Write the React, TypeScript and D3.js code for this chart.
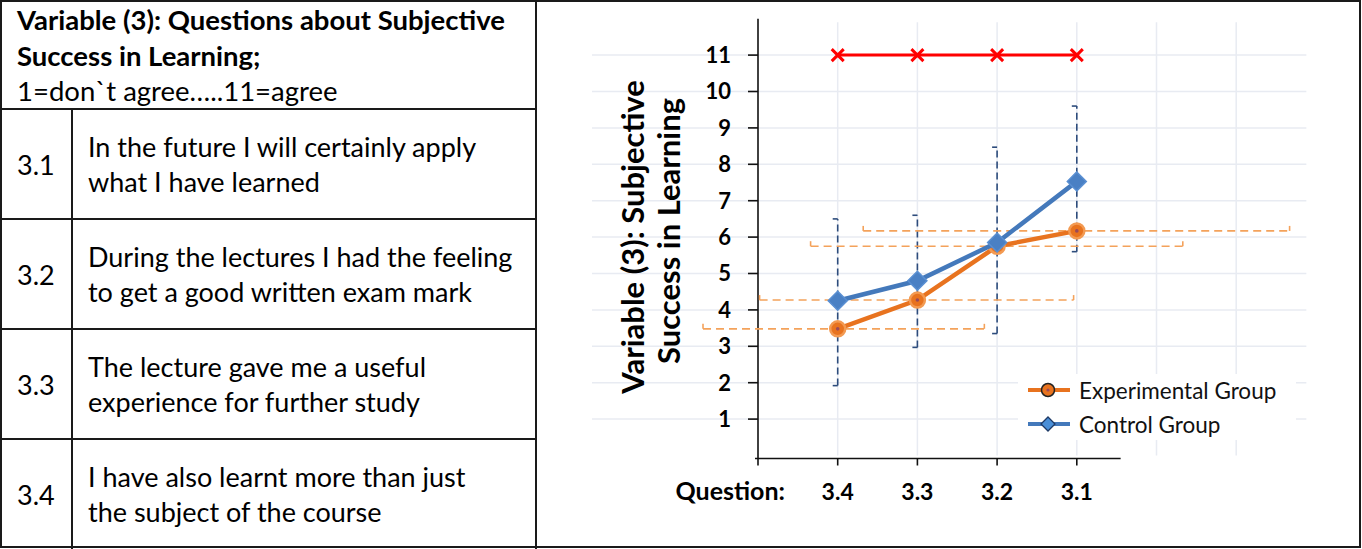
import * as d3 from "d3";
import { useEffect, useRef } from "react";

// ---- data ----
const questions = ["3.4", "3.3", "3.2", "3.1"];
const experimental = [3.48, 4.27, 5.75, 6.17];
const control = [4.25, 4.8, 5.85, 7.53];
const maxScale = [11, 11, 11, 11];
// vertical error bars of the control group (low / high values)
const controlLow = [1.92, 2.97, 3.35, 5.6];
const controlHigh = [6.5, 6.6, 8.47, 9.6];
// horizontal error bars of the experimental group (in category units)
const expErrMinus = [1.69, 1.98, 2.34, 2.68];
const expErrPlus = [1.84, 1.96, 2.33, 2.67];
const yTicks = [1, 2, 3, 4, 5, 6, 7, 8, 9, 10, 11];

const headerLines = [
  "Variable (3): Questions about Subjective",
  "Success in Learning;",
  "1=don`t agree…..11=agree",
];
const rowIds = ["3.1", "3.2", "3.3", "3.4"];
const rowLines = [
  ["In the future I will certainly apply", "what I have learned"],
  ["During the lectures I had the feeling", "to get a good written exam mark"],
  ["The lecture gave me a useful", "experience for further study"],
  ["I have also learnt more than just", "the subject of the course"],
];

const W = 1362;
const H = 549;
const FONT = "Lato, 'Open Sans', sans-serif";

const ORANGE = "#e8731f";
const BLUE = "#4479bb";

function App() {
  const ref = useRef<SVGSVGElement>(null);

  useEffect(() => {
    const svg = d3.select(ref.current);
    svg.selectAll("*").remove();
    svg.append("rect").attr("width", W).attr("height", H).attr("fill", "#fff");

    // ---------- table ----------
    const tbl = svg.append("g").attr("font-family", FONT).attr("fill", "#000");
    const rowTop = 109;
    const rowH = 110;

    tbl
      .selectAll("text.hdr")
      .data(headerLines)
      .join("text")
      .attr("class", "hdr")
      .attr("x", 17)
      .attr("y", (_d, i) => 30 + i * 35.5)
      .attr("font-size", 27.5)
      .attr("font-weight", (_d, i) => (i < 2 ? 700 : 400))
      .text((d) => d);

    rowIds.forEach((id, i) => {
      const top = rowTop + i * rowH;
      tbl
        .append("text")
        .attr("x", 17)
        .attr("y", top + 66)
        .attr("font-size", 27)
        .text(id);
      tbl
        .selectAll(`text.r${i}`)
        .data(rowLines[i])
        .join("text")
        .attr("class", `r${i}`)
        .attr("x", 88)
        .attr("y", (_d, j) => top + 48 + j * 35)
        .attr("font-size", 27)
        .text((d) => d);
    });

    const borders = svg.append("g").attr("stroke", "#1a1a1a").attr("stroke-width", 2).attr("fill", "none");
    borders.append("rect").attr("x", 1).attr("y", 1).attr("width", W - 3).attr("height", H - 3);
    borders.append("line").attr("x1", 536).attr("x2", 536).attr("y1", 0).attr("y2", H);
    borders.append("line").attr("x1", 72).attr("x2", 72).attr("y1", rowTop).attr("y2", H);
    d3.range(4).forEach((i) => {
      borders
        .append("line")
        .attr("x1", 0)
        .attr("x2", 536)
        .attr("y1", rowTop + i * rowH)
        .attr("y2", rowTop + i * rowH);
    });

    // ---------- chart ----------
    const x = d3.scaleLinear().domain([0, 7]).range([758, 758 + 7 * 79.7]);
    const y = d3.scaleLinear().domain([0, 12]).range([455.5, 455.5 - 12 * 36.4]);
    const xi = (i: number) => x(i + 1);

    const chart = svg.append("g").attr("font-family", FONT);

    // gridlines
    chart
      .append("g")
      .selectAll("line")
      .data(yTicks)
      .join("line")
      .attr("x1", 592)
      .attr("x2", x(6.88))
      .attr("y1", (d) => y(d))
      .attr("y2", (d) => y(d))
      .attr("stroke", "#e8ebf2")
      .attr("stroke-width", 1.5);
    chart
      .append("g")
      .selectAll("line")
      .data(d3.range(1, 7))
      .join("line")
      .attr("x1", (d) => x(d))
      .attr("x2", (d) => x(d))
      .attr("y1", y(0))
      .attr("y2", y(11.9))
      .attr("stroke", "#e8ebf2")
      .attr("stroke-width", 1.5);

    // axes
    const axisG = chart.append("g").attr("stroke", "#111").attr("stroke-width", 1.6);
    axisG.append("line").attr("x1", x(0)).attr("x2", x(0)).attr("y1", y(0) + 3).attr("y2", y(12));
    axisG.append("line").attr("x1", x(0) - 3).attr("x2", x(4.55)).attr("y1", y(0) + 3).attr("y2", y(0) + 3);
    axisG
      .selectAll("line.yt")
      .data(yTicks)
      .join("line")
      .attr("class", "yt")
      .attr("x1", x(0) - 10)
      .attr("x2", x(0))
      .attr("y1", (d) => y(d))
      .attr("y2", (d) => y(d));
    axisG
      .selectAll("line.xt")
      .data(d3.range(0, 5))
      .join("line")
      .attr("class", "xt")
      .attr("x1", (d) => x(d))
      .attr("x2", (d) => x(d))
      .attr("y1", y(0) + 3)
      .attr("y2", y(0) + 10);

    chart
      .selectAll("text.ytl")
      .data(yTicks)
      .join("text")
      .attr("class", "ytl")
      .attr("x", 731)
      .attr("y", (d) => y(d))
      .attr("dy", "0.36em")
      .attr("text-anchor", "end")
      .attr("font-size", 22)
      .attr("font-weight", 700)
      .text((d) => d);

    chart
      .selectAll("text.xtl")
      .data(questions)
      .join("text")
      .attr("class", "xtl")
      .attr("x", (_d, i) => xi(i))
      .attr("y", 500)
      .attr("text-anchor", "middle")
      .attr("font-size", 23)
      .attr("font-weight", 700)
      .text((d) => d);
    chart
      .append("text")
      .attr("x", 785)
      .attr("y", 500)
      .attr("text-anchor", "end")
      .attr("font-size", 25)
      .attr("font-weight", 700)
      .text("Question:");

    // y axis title
    const titleG = chart.append("g").attr("font-size", 31).attr("font-weight", 700).attr("text-anchor", "middle");
    titleG
      .append("text")
      .attr("transform", "translate(633,237) rotate(-90)")
      .attr("dy", "0.35em")
      .text("Variable (3): Subjective");
    titleG
      .append("text")
      .attr("transform", "translate(669,231) rotate(-90)")
      .attr("dy", "0.35em")
      .text("Success in Learning");

    // control group vertical error bars
    const eb = chart.append("g").attr("stroke", "#2d4c7c").attr("stroke-width", 1.6).attr("fill", "none");
    questions.forEach((_q, i) => {
      const cx = xi(i);
      eb.append("line")
        .attr("x1", cx).attr("x2", cx)
        .attr("y1", y(controlLow[i])).attr("y2", y(controlHigh[i]))
        .attr("stroke-dasharray", "7,4");
      [controlLow[i], controlHigh[i]].forEach((v) => {
        eb.append("line").attr("x1", cx - 5).attr("x2", cx).attr("y1", y(v)).attr("y2", y(v));
      });
    });

    // experimental group horizontal error bars
    const ebo = chart.append("g").attr("stroke", "#f4a25b").attr("stroke-width", 1.6).attr("fill", "none");
    experimental.forEach((v, i) => {
      const lo = x(i + 1 - expErrMinus[i]);
      const hi = x(i + 1 + expErrPlus[i]);
      ebo.append("line")
        .attr("x1", lo).attr("x2", hi)
        .attr("y1", y(v)).attr("y2", y(v))
        .attr("stroke-dasharray", "8,5");
      [lo, hi].forEach((px) => {
        ebo.append("line").attr("x1", px).attr("x2", px).attr("y1", y(v) - 5).attr("y2", y(v));
      });
    });

    const line = d3
      .line<number>()
      .x((_d, i) => xi(i))
      .y((d) => y(d));

    // maximum line (red)
    chart.append("path").attr("d", line(maxScale)).attr("fill", "none").attr("stroke", "#ff0000").attr("stroke-width", 3);
    chart
      .append("g")
      .selectAll("path")
      .data(maxScale)
      .join("path")
      .attr("d", (d, i) => {
        const cx = xi(i), cy = y(d), s = 6;
        return `M${cx - s},${cy - s}L${cx + s},${cy + s}M${cx - s},${cy + s}L${cx + s},${cy - s}`;
      })
      .attr("stroke", "#ff0000")
      .attr("stroke-width", 3);

    // experimental group
    chart.append("path").attr("d", line(experimental)).attr("fill", "none").attr("stroke", ORANGE).attr("stroke-width", 4.5);
    const drawCircle = (g: d3.Selection<SVGGElement, unknown, null, undefined>, cx: number, cy: number, r: number) => {
      g.append("circle").attr("cx", cx).attr("cy", cy).attr("r", r).attr("fill", ORANGE).attr("stroke", "#f39a52").attr("stroke-width", 2.5);
      g.append("circle").attr("cx", cx).attr("cy", cy).attr("r", 1.8).attr("fill", "#9a4a5a");
    };
    const expG = chart.append("g");
    experimental.forEach((v, i) => drawCircle(expG, xi(i), y(v), 7.5));

    // control group
    chart.append("path").attr("d", line(control)).attr("fill", "none").attr("stroke", BLUE).attr("stroke-width", 4.5);
    const drawDiamond = (g: d3.Selection<SVGGElement, unknown, null, undefined>, cx: number, cy: number, s: number) => {
      g.append("path")
        .attr("d", `M${cx},${cy - s}L${cx + s},${cy}L${cx},${cy + s}L${cx - s},${cy}Z`)
        .attr("fill", "#4a80c4")
        .attr("stroke", "#5a8fd2")
        .attr("stroke-width", 1.5);
    };
    const ctlG = chart.append("g");
    control.forEach((v, i) => drawDiamond(ctlG, xi(i), y(v), 9.5));

    // legend
    const lg = chart.append("g");
    lg.append("rect").attr("x", 1018).attr("y", 374).attr("width", 278).attr("height", 66).attr("fill", "#fff");
    lg.append("line").attr("x1", 1028).attr("x2", 1070).attr("y1", 390).attr("y2", 390).attr("stroke", ORANGE).attr("stroke-width", 4);
    const lgE = lg.append("g");
    lgE.append("circle").attr("cx", 1048).attr("cy", 390).attr("r", 6.5).attr("fill", ORANGE).attr("stroke", "#222").attr("stroke-width", 1.5);
    lgE.append("circle").attr("cx", 1048).attr("cy", 390).attr("r", 1.6).attr("fill", "#9a4a5a");
    lg.append("line").attr("x1", 1028).attr("x2", 1070).attr("y1", 424).attr("y2", 424).attr("stroke", BLUE).attr("stroke-width", 4);
    lg.append("path")
      .attr("d", "M1048,417L1055,424L1048,431L1041,424Z")
      .attr("fill", "#4a8fd8")
      .attr("stroke", "#1e3a66")
      .attr("stroke-width", 1.3);
    lg.append("text").attr("x", 1079).attr("y", 399).attr("font-size", 22.5).attr("fill", "#111").text("Experimental Group");
    lg.append("text").attr("x", 1079).attr("y", 433).attr("font-size", 22.5).attr("fill", "#111").text("Control Group");

    return () => {
      svg.selectAll("*").remove();
    };
  }, []);

  return (
    <div style={{ position: "absolute", left: 0, top: 0 }}>
      <svg ref={ref} width={W} height={H} style={{ display: "block" }}></svg>
    </div>
  );
}

export default App;
